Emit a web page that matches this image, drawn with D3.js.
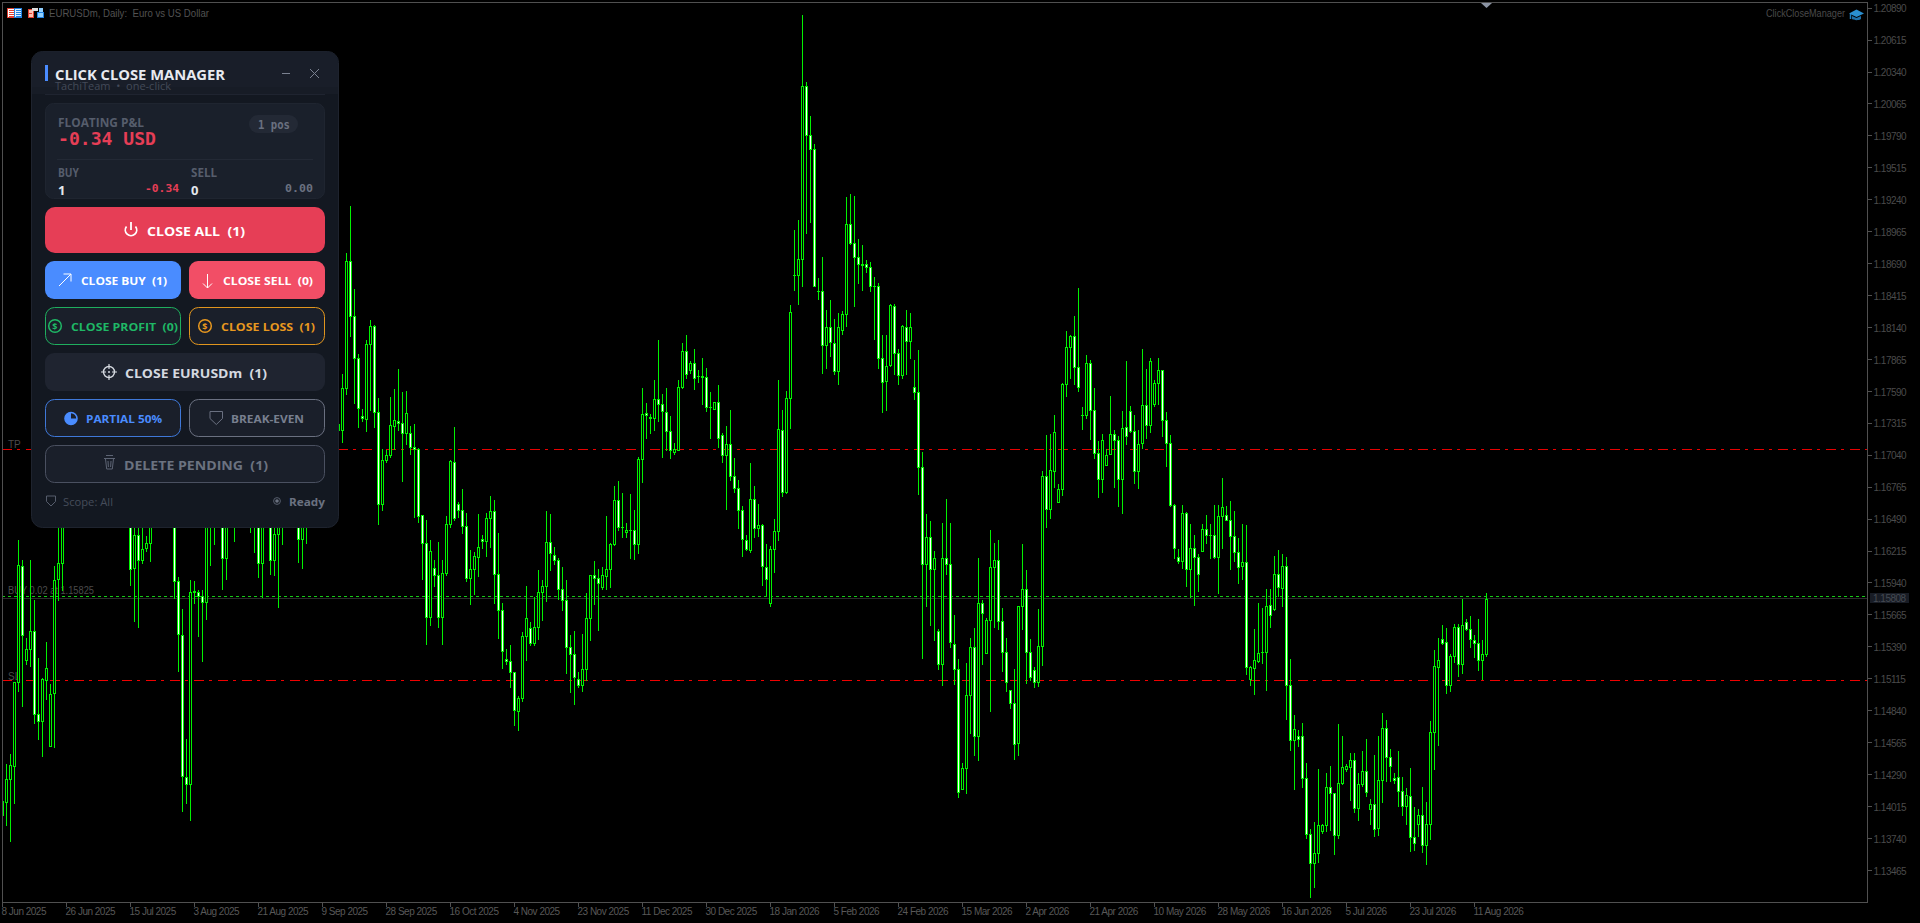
<!DOCTYPE html>
<html>
<head>
<meta charset="utf-8">
<title>EURUSDm Daily</title>
<script src="https://cdn.jsdelivr.net/npm/d3@7"></script>
<style>
html,body{margin:0;padding:0;background:#000;overflow:hidden}
svg{display:block}
</style>
</head>
<body>
<svg id="c" width="1920" height="923"></svg>
<script>
// Prices in points above 1.0 (15825 means 1.15825), one entry per daily candle.
const opens=[13939,14054,14255,14364,15088,16084,15280,15375,15530,14815,
14755,15105,14537,14993,15975,16115,16600,16800,16700,16950,
16850,17100,17050,17250,17150,16950,16820,17000,16900,16780,
16650,16550,16450,16072,16351,16141,16245,16285,16450,16620,
16500,16750,16850,16900,15958,15495,14270,14212,15868,15863,
15828,15780,16650,16800,16650,16750,16159,16700,16800,16550,
16700,16850,16750,16620,16700,16115,16650,16800,16141,16365,
16550,16450,16650,16800,16700,16322,16600,16500,16700,16850,
16950,17050,17000,17150,17253,17255,17621,18711,18240,17881,
17378,17355,18001,18151,17413,16618,17002,17040,17289,17335,
17321,17232,17235,17112,17092,16523,16288,15648,16070,16012,
15648,16027,16451,16983,16624,16572,16431,15983,16064,16164,
16322,16302,16503,16563,16021,15711,15289,15269,15174,14838,
14953,15481,15556,15424,15561,15863,15912,16293,16184,16141,
15892,15797,15389,15332,15116,15059,15202,15642,16012,15983,
15906,15999,16064,16279,16658,16423,16380,16400,16400,16279,
17011,17407,17370,17364,17528,17485,17413,17247,17066,17089,
17629,17939,17778,17830,17721,17721,17715,17451,17442,17499,
17218,17046,17140,16862,16761,16572,16314,16222,16667,16417,
16443,16078,15768,16236,16388,17261,16724,17537,18596,18596,
18734,20224,19796,19676,18453,18456,17987,18145,18008,17764,
18117,18260,19035,18869,18743,18691,18691,18662,18499,18499,
17881,17680,17815,18323,17924,17732,18145,18025,17629,17586,
16940,16099,16337,16056,15527,15238,16159,16107,15418,15203,
14169,14342,14979,15384,14623,15763,15338,15619,16073,16136,
15611,15341,15016,14907,14563,15740,15892,15347,15194,15088,
15398,16860,16581,16906,16633,16745,17657,17973,18065,17801,
17385,17385,17835,17433,17055,16831,16960,17054,17227,17175,
16839,17284,17422,17250,16905,17146,17476,17304,17479,17666,
17778,17347,17146,16615,16164,16130,16543,16064,16245,16164,
16216,16408,16357,16357,16164,16517,16529,16480,16345,16207,
16087,16116,15116,15211,15269,15346,15346,15754,15714,16021,
15900,16087,15065,14583,14620,14618,14264,13779,13532,13610,
13802,13851,14184,14127,13773,14221,14339,14356,14411,14003,
14204,14322,13995,14037,13831,14239,14692,14442,14264,14270,
14150,14017,14107,13753,13862,13940,13684,13860,14658,15218,
15458,15432,15065,15312,15561,15240,15605,15541,15452,15426,
15274,15332];
const highs=[14063,14384,14470,15088,16314,16141,15470,16141,15797,15297,
15122,15435,15068,16084,16500,16750,16950,16900,17050,17000,
17150,17250,17300,17350,17200,17020,17080,17100,16980,16850,
16720,16620,16600,16480,16480,16420,16342,16650,16720,16700,
16820,16950,17000,17000,15987,15719,14600,15963,15955,15883,
15877,16780,16950,16880,16850,16900,16850,16900,16880,16780,
16950,16920,16800,16780,16800,16750,16880,16900,16520,16650,
16620,16720,16880,16880,16780,16700,16680,16780,16950,17050,
17150,17120,17220,17250,17340,17743,18785,19184,18475,17915,
17442,18036,18202,18160,17536,17097,17088,17542,17614,17780,
17583,17591,17290,17307,17106,16529,16480,16308,16136,16293,
16141,16515,16997,17284,16638,16753,16546,16222,16207,16537,
16351,16546,16687,16652,16374,15768,15375,15409,15174,14967,
15518,15912,15602,15820,16055,15969,16558,16532,16250,16159,
16078,15969,15495,15524,15174,15498,15849,16012,16127,16064,
16078,16515,16288,16773,16816,16716,16460,16710,16572,17026,
17623,17494,17399,17686,18036,17571,17623,17376,17149,17692,
18010,18073,17850,17959,17772,17881,17795,17585,17499,17643,
17232,17290,17428,17020,16825,16601,16351,16977,16773,16618,
16451,16273,16256,16489,17692,17428,17591,18332,18978,19064,
20830,20253,19960,19724,18562,18743,18289,18375,18209,18266,
18280,19265,19288,19271,18900,18849,18720,18705,18576,18527,
18074,18074,18341,18341,17959,18160,18289,18266,17864,17950,
17069,16538,16472,16214,15539,16452,16667,16452,15662,15289,
14391,15252,15470,15548,16159,15797,15642,16395,16280,16308,
15720,15470,15022,15203,15740,16274,16050,15456,15212,15714,
16903,17213,17227,17390,16791,17666,18108,18079,18237,18484,
17451,17907,17858,17623,17161,17227,17092,17548,17261,17204,
17419,17850,17462,17384,17255,17959,17781,17873,17692,17873,
17778,17410,17212,16624,16236,16609,16552,16446,16351,16187,
16451,16523,16451,16609,16609,16848,16601,16644,16558,16331,
16446,16437,15223,15541,15771,15728,15892,15892,16170,16222,
16193,16164,15283,14801,14672,14730,14385,13817,13877,14336,
13868,14299,14362,14135,14724,14620,14379,14471,14471,14307,
14491,14600,14075,14457,14620,14816,14758,14514,14307,14491,
14270,14170,14350,14006,13997,14184,14049,14750,15366,15470,
15576,15556,15332,15590,15590,15805,15633,15653,15495,15627,
15447,15849];
const lows=[13939,13853,13718,14046,15010,14881,15240,15223,14735,14594,
14448,14941,14537,14528,15791,15883,16500,16600,16620,16780,
16800,16980,17000,17100,16880,16750,16780,16850,16700,16600,
16500,16420,15920,15613,15561,16113,16216,16127,16420,16440,
16450,16700,16780,15811,15183,13977,14046,13902,15768,15481,
15269,15627,16093,16274,16450,15889,15975,16600,16302,16480,
16650,16680,16380,16208,15992,15820,16600,16021,16006,15734,
16274,16420,16600,16620,16121,16070,16285,16450,16650,16800,
16900,16950,16950,17050,17240,17155,17571,18068,17490,17284,
17335,17249,17427,17284,16451,16566,16982,17025,17097,17255,
16816,17135,17054,16509,16466,15972,15412,15576,15914,15561,
15412,16007,16423,16480,16509,16371,15955,15762,15848,15998,
16245,16170,16250,15768,15469,15208,15246,15045,14715,14671,
14921,15280,15409,15403,15461,15619,15782,16049,16101,15805,
15705,15165,15002,14901,15045,15010,15102,15452,15757,15533,
15892,15892,15906,16265,16394,16337,16337,16156,16144,16202,
16810,17189,17232,17255,17336,17026,17083,17017,17054,17089,
17623,17706,17749,17606,17671,17485,17422,17192,17442,17112,
16983,16575,16825,16724,16417,16173,16222,16207,16337,16345,
15920,15834,15739,16035,16313,16690,16716,17275,18467,18341,
18496,18955,19050,18496,18384,17749,17792,17898,17743,17657,
18088,18154,18863,18326,18519,18467,18619,18456,18039,17792,
17413,17428,17810,17738,17652,17706,17738,17873,17528,16705,
15295,15743,15576,15447,15197,15060,16016,15384,15068,14098,
14169,14132,14649,14457,14414,15246,15338,14839,15562,15542,
15183,15011,14867,14422,14457,15542,15080,15103,15045,15054,
15232,16423,16495,16768,16633,16696,17548,17709,17657,17594,
17270,17362,17178,17012,16682,16725,16954,17049,16767,16604,
16543,17140,17241,16802,16759,17103,17189,17241,17465,17479,
17206,16948,16601,16156,16113,16070,15914,15823,15748,15872,
16216,16285,16156,16156,15854,16242,16480,16058,16127,15940,
15972,15154,15059,14981,15260,15251,15016,15561,15705,15828,
15742,14764,14500,14164,14534,14184,13745,13237,13323,13538,
13782,13802,13811,13604,13745,14204,14322,14069,13969,13897,
14190,14104,13868,13762,13768,14055,14233,14236,14213,14017,
13940,13868,13633,13639,13759,13624,13518,13733,14336,14543,
15412,14993,15010,15260,15139,15165,15533,15389,15303,15194,
15111,15312];
const closes=[14063,14255,14370,15088,16093,15495,15375,15530,14815,14755,
15111,15211,14987,15969,16115,16600,16800,16700,16950,16850,
17100,17050,17250,17150,16950,16820,17000,16900,16780,16650,
16550,16450,16064,16351,16141,16236,16285,16450,16620,16500,
16750,16850,16900,15958,15504,14275,14212,15863,15863,15828,
15780,16650,16800,16650,16750,16159,16700,16800,16550,16700,
16850,16750,16620,16700,16115,16650,16800,16141,16365,16550,
16450,16650,16800,16700,16322,16600,16500,16700,16850,16950,
17050,17000,17150,17100,17311,17621,18711,18240,17881,17450,
17364,18001,18151,17413,16618,16997,17040,17304,17347,17318,
17232,17407,17112,17092,16517,16288,15648,16216,16012,15648,
16027,16451,16988,16503,16572,16431,15983,16064,16170,16250,
16302,16503,16563,16021,15711,15355,15269,15174,14849,14953,
15481,15642,15424,15561,15863,15912,16293,16199,16141,15892,
15797,15389,15332,15131,15059,15202,15642,16012,15986,15940,
16006,16064,16279,16658,16423,16423,16400,16400,16279,17011,
17399,17387,17364,17528,17485,17419,17247,17089,17097,17629,
17939,17743,17830,17706,17721,17712,17451,17451,17499,17192,
17046,17140,16862,16761,16572,16322,16236,16667,16417,16443,
16087,15978,16236,16388,17270,16724,17537,18277,18596,18734,
20224,19796,19676,18496,18453,17987,18145,18016,17764,18145,
18260,19035,18869,18743,18691,18680,18662,18499,18499,17881,
17672,17807,18332,17924,17732,18151,18025,18140,17586,16940,
16099,16337,16056,16159,15238,16159,16107,15427,15203,14141,
14350,14979,15384,14623,15763,15685,15619,16073,16136,15611,
15341,15083,14907,14557,15740,15892,15347,15131,15088,15398,
16860,16581,16911,17242,16745,17657,17973,18065,17801,17629,
17385,17835,17433,17055,16831,17175,17046,17227,17175,16839,
17278,17204,17250,16905,17140,17476,17304,17850,17666,17778,
17347,17146,16615,16245,16130,16543,16064,16245,16164,16021,
16408,16357,16357,16164,16517,16595,16480,16345,16207,16078,
16116,15217,15217,15280,15337,15346,15742,15668,16021,15906,
16087,15059,14583,14686,14600,14264,13779,13532,13610,13851,
13851,14184,14127,13773,14221,14351,14365,14411,14003,14204,
14322,14141,14032,13825,14239,14692,14442,14365,14247,14150,
14017,14112,13753,13702,13940,13684,13860,14658,15223,15280,
15423,15065,15312,15561,15240,15576,15547,15455,15426,15274,
15332,15805];

const priceTicks=[20890,20615,20340,20065,19790,19515,19240,18965,18690,18415,18140,17865,17590,17315,17040,16765,16490,16215,15940,15665,15390,15115,14840,14565,14290,14015,13740,13465];
const dateLabels=["8 Jun 2025","26 Jun 2025","15 Jul 2025","3 Aug 2025","21 Aug 2025","9 Sep 2025","28 Sep 2025","16 Oct 2025","4 Nov 2025","23 Nov 2025","11 Dec 2025","30 Dec 2025","18 Jan 2026","5 Feb 2026","24 Feb 2026","15 Mar 2026","2 Apr 2026","21 Apr 2026","10 May 2026","28 May 2026","16 Jun 2026","5 Jul 2026","23 Jul 2026","11 Aug 2026"];
const dateTickIndex=dateLabels.map((d,i)=>i*16);
const levelTP=17088, levelSL=15096, levelBuy=15825, levelNow=15808;

const svg=d3.select("#c");
const FRAME={l:2,t:2,r:1867,b:902};
const x=d3.scaleLinear().domain([0,371]).range([2.5,1486.5]);
const y=d3.scaleLinear().domain([20890,13465]).range([8.2,870.3]);
const snap=v=>Math.round(v);
const CHART_FONT="'Liberation Sans',Arial,sans-serif";
const UI_FONT="'Open Sans','Noto Sans',sans-serif";
const MONO="'DejaVu Sans Mono',monospace";
const AXC="#505050", TXC="#4b4b4b";
const GREEN="#00f200";

svg.append("rect").attr("width",1920).attr("height",923).attr("fill","#000");
svg.append("defs").append("clipPath").attr("id","plot").append("rect")
  .attr("x",FRAME.l+1).attr("y",FRAME.t+1).attr("width",FRAME.r-FRAME.l-1).attr("height",FRAME.b-FRAME.t-1);

// order labels
const small=(t,px,py,fill,size)=>svg.append("text").attr("x",px).attr("y",py).attr("fill",fill||TXC)
  .attr("font-family",CHART_FONT).attr("font-size",size||10).text(t);
small("TP",8,448);
small("SL",8,680);
small("BUY 0.02 at 1.15825",8,594).attr("textLength",86).attr("lengthAdjust","spacingAndGlyphs");

// level lines
const levels=[
 {v:levelNow,c:"#2c2c2c",d:null},
 {v:levelBuy,c:"#17c917",d:"3,3"},
 {v:levelTP,c:"#e80000",d:"10,5,3,6"},
 {v:levelSL,c:"#f00000",d:"10,5,3,6"}];
svg.append("g").selectAll("line").data(levels).join("line")
  .attr("x1",FRAME.l).attr("x2",FRAME.r)
  .attr("y1",d=>Math.floor(y(d.v))+.5).attr("y2",d=>Math.floor(y(d.v))+.5)
  .attr("stroke",d=>d.c).attr("stroke-dasharray",d=>d.d);

// candles
const candles=opens.map((o,i)=>({i,o,h:highs[i],l:lows[i],c:closes[i]}));
const g=svg.append("g").attr("clip-path","url(#plot)").attr("shape-rendering","crispEdges");
const cg=g.selectAll("g").data(candles).join("g");
cg.append("rect").attr("x",d=>x(d.i)-.5).attr("width",1)
  .attr("y",d=>snap(y(d.h))).attr("height",d=>Math.max(1,snap(y(d.l))-snap(y(d.h))+1)).attr("fill",GREEN);
cg.append("rect").attr("x",d=>x(d.i)-1.5).attr("width",3)
  .attr("y",d=>snap(y(Math.max(d.o,d.c))))
  .attr("height",d=>Math.max(1,snap(y(Math.min(d.o,d.c)))-snap(y(Math.max(d.o,d.c)))+1)).attr("fill",GREEN);
cg.append("rect").attr("x",d=>x(d.i)-.5).attr("width",1)
  .attr("y",d=>snap(y(Math.max(d.o,d.c)))+1)
  .attr("height",d=>Math.max(0,snap(y(Math.min(d.o,d.c)))-snap(y(Math.max(d.o,d.c)))-1))
  .attr("fill",d=>d.c<d.o?"#fff":"#000");

// axes
const yAxis=d3.axisRight(y).tickValues(priceTicks).tickFormat(d=>"1."+d).tickSize(4).tickPadding(2).offset(0);
const ya=svg.append("g").attr("transform",`translate(${FRAME.r+.5},0)`).call(yAxis);
const xAxis=d3.axisBottom(x).tickValues(dateTickIndex).tickFormat((d,i)=>dateLabels[i]).tickSize(4).tickPadding(1).offset(0);
const xa=svg.append("g").attr("transform",`translate(0,${FRAME.b+.5})`).call(xAxis);
[ya,xa].forEach(a=>{a.select(".domain").remove();a.selectAll("line").attr("stroke",AXC).attr("shape-rendering","crispEdges");
  a.selectAll("text").attr("fill",TXC).attr("font-family",CHART_FONT).attr("font-size",10);});
ya.selectAll("text").attr("letter-spacing","-.5").attr("fill","#4b4b4b").attr("dy","0.42em");
xa.selectAll("text").attr("text-anchor","start").attr("x",-1).attr("letter-spacing","-.5").attr("fill","#585858");
svg.append("rect").attr("x",FRAME.l+.5).attr("y",FRAME.t+.5).attr("width",FRAME.r-FRAME.l).attr("height",FRAME.b-FRAME.t)
  .attr("fill","none").attr("stroke",AXC).attr("shape-rendering","crispEdges");

// current price tag
svg.append("rect").attr("x",1870).attr("y",593).attr("width",39).attr("height",10).attr("fill","#181c25");
svg.append("text").attr("x",1873).attr("y",602).attr("font-family",CHART_FONT).attr("font-size",10).attr("letter-spacing","-.5").attr("fill","#454a52").text("1."+levelNow);

// chart header
small("EURUSDm, Daily:  Euro vs US Dollar",49,17,"#525252",11).attr("textLength",160).attr("lengthAdjust","spacingAndGlyphs").style("white-space","pre");
small("ClickCloseManager",1766,17,"#4a4a4a",11).attr("textLength",79).attr("lengthAdjust","spacingAndGlyphs");
// trade-book icon
const ic=svg.append("g").attr("shape-rendering","crispEdges");
ic.append("rect").attr("x",7.5).attr("y",8.5).attr("width",14).attr("height",9).attr("fill","#fff").attr("stroke","#e04030");
ic.append("rect").attr("x",14.5).attr("y",8.5).attr("width",7).attr("height",9).attr("fill","#dfefff").attr("stroke","#2080e0");
[10,12,14,16].forEach(yy=>{ic.append("rect").attr("x",9).attr("y",yy).attr("width",5).attr("height",1).attr("fill","#e04030");ic.append("rect").attr("x",16).attr("y",yy).attr("width",5).attr("height",1).attr("fill","#2080e0");});
// strategy icon
ic.append("path").attr("d","M28.5 9.5h5v8h-5zM29 13h3").attr("fill","#ffc0b0").attr("stroke","#e04030");
ic.append("path").attr("d","M37.5 12.5h5.5v5h-5.5z").attr("fill","#90d0ff").attr("stroke","#2080e0");
ic.append("rect").attr("x",32).attr("y",8).attr("width",6).attr("height",3).attr("fill","#ddd");
ic.append("rect").attr("x",39).attr("y",8).attr("width",4).attr("height",4).attr("fill","#90d0ff");
// graduation cap icon
svg.append("path").attr("d","M1849 13.5l7.5-4 7.5 4-7.5 3.5z").attr("fill","#2a8fd0");
svg.append("path").attr("d","M1852 16v3c2 1.6 7 1.6 9 0v-3l-4.5 2z").attr("fill","#1e6fa8");
svg.append("path").attr("d","M1850.5 14v5").attr("stroke","#1e7fc0").attr("stroke-width",1.5);
// shift marker
svg.append("path").attr("d","M1481 3H1492L1486.5 8z").attr("fill","#8b93a3");

// ---- overlay panel ----
const P=svg.append("g");
const ptext=(t,x0,base,fill,size,weight,fam,x1)=>{const s=P.append("text").attr("x",x0).attr("y",base).attr("fill",fill)
  .attr("font-family",fam||UI_FONT).attr("font-size",size).attr("font-weight",weight||400).style("white-space","pre").text(t);
  if(x1)s.attr("textLength",x1-x0).attr("lengthAdjust","spacingAndGlyphs");return s;};
P.append("rect").attr("x",31.5).attr("y",51.5).attr("width",307).attr("height",476).attr("rx",11).attr("fill","#131821").attr("stroke","#1e232e");
P.append("path").attr("d","M32 87V62.5a11 11 0 0 1 11-11H327a11 11 0 0 1 11 11V87z").attr("fill","#191e29");
P.append("rect").attr("x",32).attr("y",87).attr("width",306).attr("height",7).attr("fill","#171c26");
P.append("rect").attr("x",45).attr("y",94).attr("width",280).attr("height",1).attr("fill","#1f2430");
P.append("rect").attr("x",45).attr("y",65).attr("width",3).attr("height",16).attr("fill","#4a8cff");
ptext("TachiTeam  •  one-click",55,90,"#434a58",11.5,400,UI_FONT,171);
ptext("CLICK CLOSE MANAGER",55,80,"#e8eaf0",14.5,700,UI_FONT,225);
P.append("path").attr("d","M282 73.5h8M310 69l9 9M319 69l-9 9").attr("stroke","#7a8190").attr("fill","none");

P.append("rect").attr("x",45.5).attr("y",103.5).attr("width",279).attr("height",95).attr("rx",8).attr("fill","#1a202b").attr("stroke","#1f2530");
ptext("FLOATING P&L",58,127,"#565d6c",11.5,700,UI_FONT,144);
ptext("-0.34 USD",58,145,"#e63e56",18,700,MONO,156);
P.append("rect").attr("x",249).attr("y",115).attr("width",49).attr("height",18).attr("rx",9).attr("fill","#232935");
ptext("1 pos",258,129,"#6a7180",12,700,MONO,290);
P.append("rect").attr("x",57).attr("y",159).attr("width",256).attr("height",1).attr("fill","#232935");
ptext("BUY",58,177,"#565d6c",11.5,700,UI_FONT,79);
ptext("SELL",191,177,"#565d6c",11.5,700,UI_FONT,217);
ptext("1",58,195,"#e4e7ed",13,700,UI_FONT);
ptext("0",191,195,"#e4e7ed",13,700,UI_FONT);
ptext("-0.34",145,192,"#e63e56",10.5,700,MONO,179);
ptext("0.00",285,192,"#6a7180",10.5,700,MONO,313);

const buttons=[
 {t:"CLOSE ALL  (1)",x:45,y:207,w:280,h:46,r:10,fill:"#e63e56",c:"#fff",a:147,b:245,s:13},
 {t:"CLOSE BUY  (1)",x:45,y:261,w:136,h:38,r:9,fill:"#4a8cff",c:"#fff",a:81,b:167,s:11},
 {t:"CLOSE SELL  (0)",x:189,y:261,w:136,h:38,r:9,fill:"#f24e66",c:"#fff",a:223,b:313,s:11},
 {t:"CLOSE PROFIT  (0)",x:45,y:307,w:136,h:38,r:9,fill:"#1a1f2a",st:"#1fae5e",c:"#1fb866",a:71,b:178,s:11},
 {t:"CLOSE LOSS  (1)",x:189,y:307,w:136,h:38,r:9,fill:"#1a1f2a",st:"#e0951e",c:"#e8981f",a:221,b:315,s:11},
 {t:"CLOSE EURUSDm  (1)",x:45,y:353,w:280,h:38,r:9,fill:"#1f2430",c:"#d5d9e0",a:125,b:267,s:12.5},
 {t:"PARTIAL 50%",x:45,y:399,w:136,h:38,r:9,fill:"#1a1f2a",st:"#3f78d8",c:"#4a8cff",a:86,b:162,s:11},
 {t:"BREAK-EVEN",x:189,y:399,w:136,h:38,r:9,fill:"#1a1f2a",st:"#6a7080",c:"#787f8f",a:231,b:304,s:11},
 {t:"DELETE PENDING  (1)",x:45,y:445,w:280,h:38,r:9,fill:"#1a1f2a",st:"#4a5060",c:"#6b7280",a:124,b:268,s:12.5}];
P.selectAll("rect.btn").data(buttons).join("rect").attr("class","btn")
  .attr("x",d=>d.x+(d.st?.5:0)).attr("y",d=>d.y+(d.st?.5:0)).attr("width",d=>d.w-(d.st?1:0)).attr("height",d=>d.h-(d.st?1:0))
  .attr("rx",d=>d.r).attr("fill",d=>d.fill).attr("stroke",d=>d.st||"none");
buttons.forEach(d=>ptext(d.t,d.a,d.y+d.h/2+d.s*.37+1,d.c,d.s,700,UI_FONT,d.b));

const stroke=(dv,c,w)=>P.append("path").attr("d",dv).attr("fill","none").attr("stroke",c).attr("stroke-width",w||1);
stroke("M126.5 226.5a5.7 5.7 0 1 0 9 0M131 222v8","#fff",1.8);
stroke("M59 286L71 274M63.5 274H71V281.5","#fff",1);
stroke("M207.5 274V288M203 283.5L207.5 288L212 283.5","#fff",1);
P.append("circle").attr("cx",55).attr("cy",326).attr("r",6.3).attr("fill","none").attr("stroke","#1fb866").attr("stroke-width",1.5);
ptext("$",52.2,329.5,"#1fb866",9,700);
P.append("circle").attr("cx",205).attr("cy",326).attr("r",6.3).attr("fill","none").attr("stroke","#e8981f").attr("stroke-width",1.5);
ptext("$",202.2,329.5,"#e8981f",9,700);
stroke("M109 364v5M109 375v5M101 372h5M112 372h5","#d5d9e0",1.2);
P.append("circle").attr("cx",109).attr("cy",372).attr("r",5.5).attr("fill","none").attr("stroke","#d5d9e0").attr("stroke-width",1.4);
P.append("circle").attr("cx",109).attr("cy",372).attr("r",1).attr("fill","#d5d9e0");
P.append("circle").attr("cx",71).attr("cy",418.5).attr("r",6).attr("fill","none").attr("stroke","#4a8cff").attr("stroke-width",1.6);
P.append("path").attr("d","M71 418.5V412.5A6 6 0 1 0 77 418.5z").attr("fill","#4a8cff");
stroke("M210 411.5h12.5v7l-6.2 6-6.3-6z","#6a7080",1);
stroke("M104 458.5h11M106 455.5h7M105.5 459l1.2 10h5.6l1.2-10M108 461l.4 6M111 461l-.4 6","#5d6474",1);
stroke("M46.5 496h9v5.5l-4.5 4.5-4.5-4.5z","#565d6c",1);
ptext("Scope: All",63,506,"#454c5a",10.5,400,UI_FONT,113);
P.append("circle").attr("cx",277).attr("cy",501).attr("r",3.4).attr("fill","none").attr("stroke","#565d6c").attr("stroke-width",1);
P.append("circle").attr("cx",277).attr("cy",501).attr("r",1.8).attr("fill","#6a7180");
ptext("Ready",289,506,"#6a7180",10.5,700,UI_FONT,325);
</script>
</body>
</html>
